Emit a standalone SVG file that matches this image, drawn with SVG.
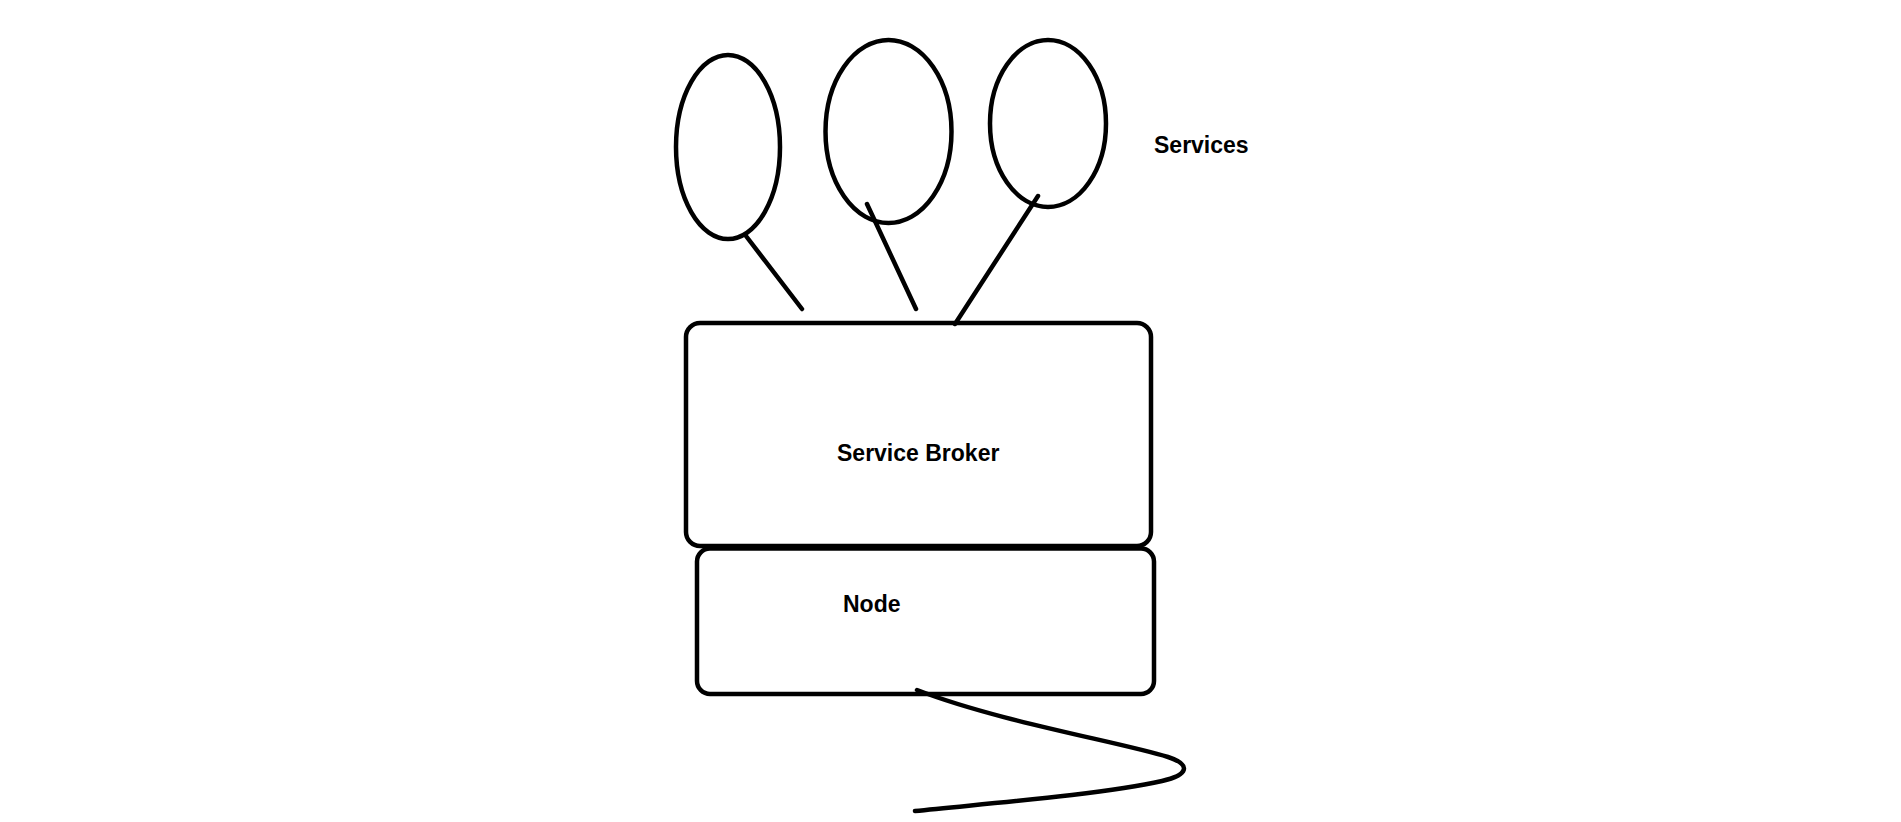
<svg xmlns="http://www.w3.org/2000/svg" width="1901" height="822" viewBox="0 0 1901 822">
<style>
.s{fill:none;stroke:#000;stroke-width:4.5;stroke-linecap:round;stroke-linejoin:round}
.t{font-family:"Liberation Sans",Arial,sans-serif;font-weight:bold;font-size:23px;fill:#000}
</style>
<rect width="1901" height="822" fill="#fff"/>
<g id="service1"><ellipse class="s" cx="728" cy="147" rx="52" ry="92"/></g>
<g id="service2"><ellipse class="s" cx="888.5" cy="131.5" rx="63" ry="91.5"/></g>
<g id="service3"><ellipse class="s" cx="1048" cy="123.5" rx="58" ry="83.5"/></g>
<g id="services-label"><text class="t" x="1154" y="153">Services</text></g>
<g id="broker"><rect class="s" x="686" y="323" width="465" height="223" rx="14"/><text class="t" x="837" y="461">Service Broker</text></g>
<g id="node"><rect class="s" x="697" y="548.5" width="457" height="145.5" rx="13"/><text class="t" x="843" y="612">Node</text></g>
<g id="connectors">
<line class="s" x1="746" y1="236" x2="802" y2="309"/>
<line class="s" x1="867" y1="204" x2="916" y2="309"/>
<line class="s" x1="1038" y1="196" x2="955" y2="324"/>
<path class="s" d="M917,690 C1000,722 1120,742 1168,757 C1192,765 1188,775 1162,781 C1100,795 980,804 915,811"/>
</g>
</svg>
